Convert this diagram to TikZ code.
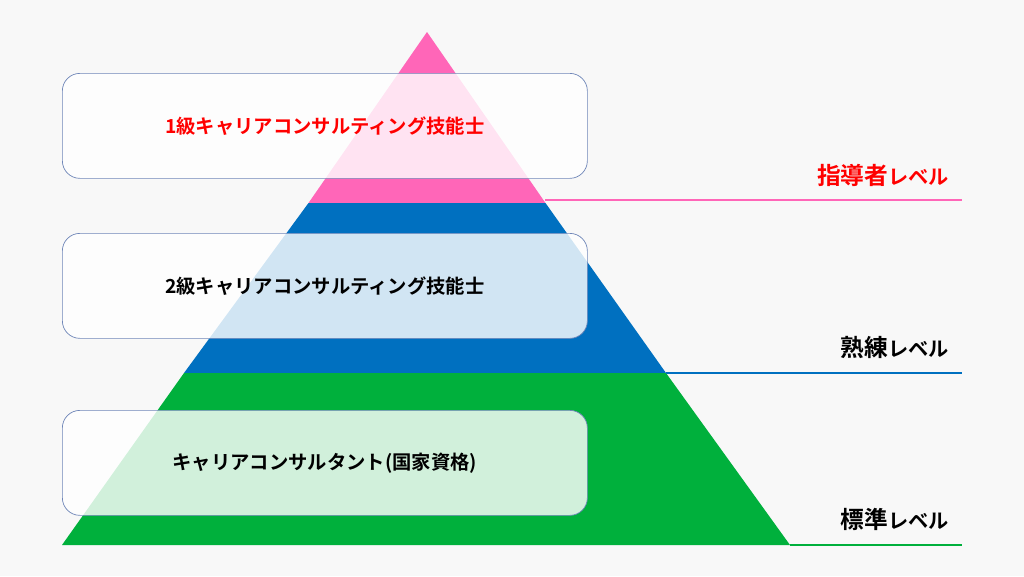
\documentclass[tikz,border=0pt]{standalone}
\usepackage{fontspec}
\setmainfont{Noto Sans CJK JP}[BoldFont={* Bold}]
\definecolor{bgcol}{HTML}{F8F8F8}
\definecolor{pinkcol}{HTML}{FF66B8}
\definecolor{bluecol}{HTML}{0070C0}
\definecolor{greencol}{HTML}{00B03C}
\definecolor{boxline}{HTML}{6F86B8}
\definecolor{redtext}{HTML}{FF0000}
\begin{document}
\begin{tikzpicture}[
    x=0.02cm, y=-0.02cm,
    lvlbox/.style={draw=boxline, fill=white, fill opacity=0.82, text opacity=1,
      rounded corners=10pt, minimum width=525*0.02cm, minimum height=105*0.02cm,
      anchor=north west, font=\bfseries\fontsize{11}{13}\selectfont},
    lvltext/.style={anchor=base east, font=\bfseries\fontsize{13.5}{16}\selectfont}]

    % Background
    \fill[bgcol] (0,0) rectangle (1024,576);

    % Pyramid bands
    \coordinate (top) at (427,32);
    \fill[pinkcol] (top) -- (545.5,203) -- (308.5,203) -- cycle;
    \fill[bluecol] (308.5,203) -- (545.5,203) -- (666,373) -- (184,373) -- cycle;
    \fill[greencol] (184,373) -- (666,373) -- (790,545) -- (62,545) -- cycle;

    % Level lines
    \draw[pinkcol, line width=1.2pt] (545,200) -- (962,200);
    \draw[bluecol, line width=1.2pt] (666,373) -- (962,373);
    \draw[greencol, line width=1.2pt] (790,545) -- (962,545);

    % Boxes
    \node[lvlbox, text=redtext] (b1) at (62,73) {1級キャリアコンサルティング技能士};
    \node[lvlbox] (b2) at (62,233) {2級キャリアコンサルティング技能士};
    \node[lvlbox] (b3) at (62,410) {キャリアコンサルタント(国家資格)};

    % Level labels
    \node[lvltext, text=redtext] (l1) at (955,184)
      {指導者\fontsize{11.5}{14}\selectfont レベル};
    \node[lvltext] (l2) at (955,356)
      {熟練\fontsize{11.5}{14}\selectfont レベル};
    \node[lvltext] (l3) at (955,528)
      {標準\fontsize{11.5}{14}\selectfont レベル};
  \end{tikzpicture}
\end{document}
